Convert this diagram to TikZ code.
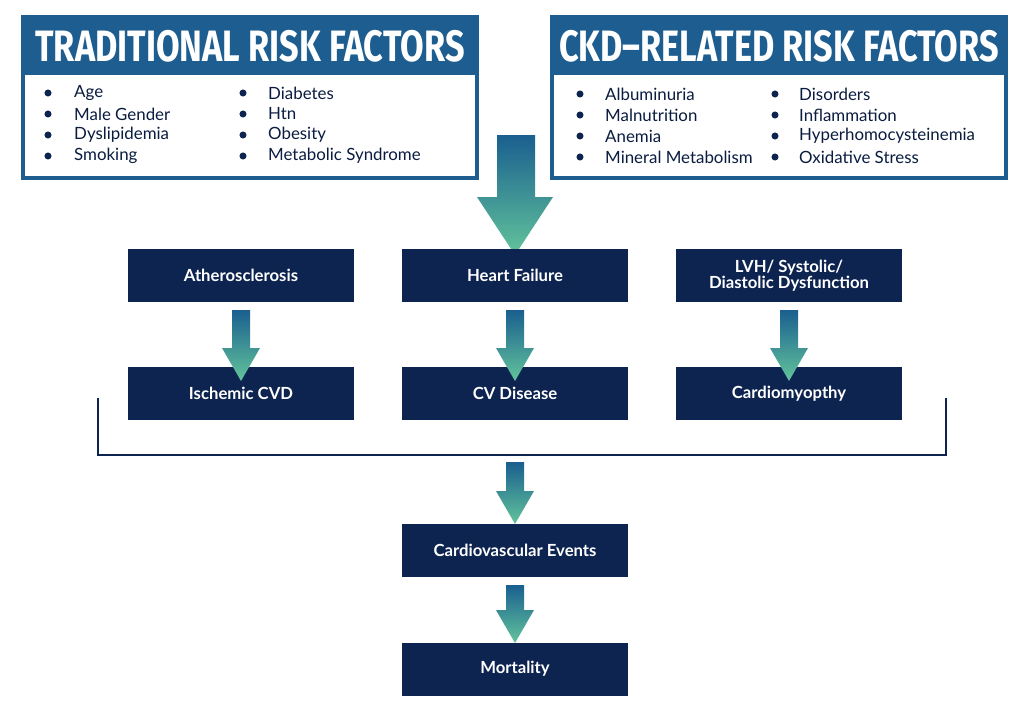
\documentclass[tikz,border=0pt]{standalone}
\usepackage{fontspec}
\setmainfont{Lato}
\newfontfamily\condfont[FakeStretch=0.78]{Fira Sans}
\definecolor{hdr}{HTML}{1D5D8F}
\definecolor{navy}{HTML}{0D2350}
\definecolor{atop}{HTML}{1A5F8F}
\definecolor{abot}{HTML}{62C49B}
\begin{document}
\begin{tikzpicture}[x=0.02cm,y=-0.02cm,
  navybox/.style={fill=navy,text=white,font=\bfseries\fontsize{9.5}{11}\selectfont,align=center},
  hdrtext/.style={text=white,font=\condfont\bfseries\fontsize{25}{28}\selectfont},
  item/.style={anchor=west,font=\fontsize{9.6}{11}\selectfont,text=navy!80!black},
  bul/.style={circle,fill=navy,inner sep=0pt,minimum size=4pt}]
\useasboundingbox (0,0) rectangle (1024,710);
% top boxes
\foreach \bx/\nm in {23/L,552/R}{
  \draw[hdr,line width=2.2pt,fill=white] (\bx,17) rectangle ++(454,161);
  \fill[hdr] (\bx,17) rectangle ++(454,58);
}
\node[hdrtext] (hl) at (250,46) {TRADITIONAL RISK FACTORS};
\node[hdrtext] (hr) at (779,46) {CKD–RELATED RISK FACTORS};
\foreach \t [count=\i] in {Age,Male Gender,Dyslipidemia,Smoking}{
  \node[bul] at (48,{72+21*\i}) {}; \node[item] at (68,{72+21*\i}) {\t};}
\foreach \t [count=\i] in {Diabetes,Htn,Obesity,Metabolic Syndrome}{
  \node[bul] at (243,{72+21*\i}) {}; \node[item] at (262,{72+21*\i}) {\t};}
\foreach \t [count=\i] in {Albuminuria,Malnutrition,Anemia,Mineral Metabolism}{
  \node[bul] at (580,{73+21*\i}) {}; \node[item] at (599,{73+21*\i}) {\t};}
\foreach \t [count=\i] in {Disorders,Inflammation,Hyperhomocysteinemia,Oxidative Stress}{
  \node[bul] at (775,{73+21*\i}) {}; \node[item] at (793,{73+21*\i}) {\t};}
% big arrow
\shade[top color=atop,bottom color=abot] (497,135) -- (535,135) -- (535,197) -- (553,197) -- (515,255) -- (477,197) -- (497,197) -- cycle;
% boxes
\node[navybox,minimum width=226*0.02cm,minimum height=53*0.02cm] (ath) at (241,275.5) {Atherosclerosis};
\node[navybox,minimum width=226*0.02cm,minimum height=53*0.02cm] (hf) at (515,275.5) {Heart Failure};
\node[navybox,minimum width=226*0.02cm,minimum height=53*0.02cm] (lvh) at (789,275.5) {LVH/ Systolic/\\[-2pt]Diastolic Dysfunction};
\node[navybox,minimum width=226*0.02cm,minimum height=53*0.02cm] (isc) at (241,393.5) {Ischemic CVD};
\node[navybox,minimum width=226*0.02cm,minimum height=53*0.02cm] (cvd) at (515,393.5) {CV Disease};
\node[navybox,minimum width=226*0.02cm,minimum height=53*0.02cm] (card) at (789,393.5) {Cardiomyopthy};
\node[navybox,minimum width=226*0.02cm,minimum height=53*0.02cm] (cve) at (515,550.5) {Cardiovascular Events};
\node[navybox,minimum width=226*0.02cm,minimum height=53*0.02cm] (mort) at (515,669) {Mortality};
% small arrows
\foreach \cx/\ya/\yb in {241/310/381,515/310/381,789/310/381,515/462/524,515/585/643}{
  \shade[top color=atop,bottom color=abot] (\cx-9,\ya) -- (\cx+9,\ya) -- (\cx+9,\yb-33) -- (\cx+19,\yb-33) -- (\cx,\yb) -- (\cx-19,\yb-33) -- (\cx-9,\yb-33) -- cycle;
}
% bracket
\coordinate (bl) at (98,398); \coordinate (br) at (946,398);
\draw[navy,line width=1.6pt] (bl) -- (98,455) -- (946,455) -- (br);
\end{tikzpicture}
\end{document}
